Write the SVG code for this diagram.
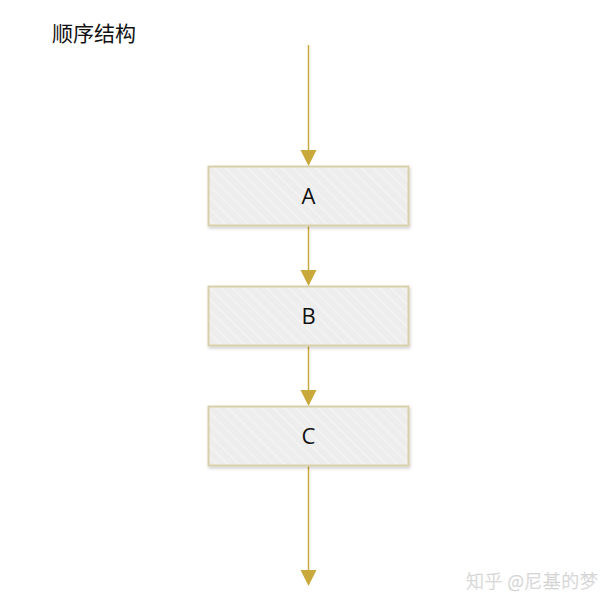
<svg xmlns="http://www.w3.org/2000/svg" width="616" height="608" viewBox="0 0 616 608">
<style>
.box{fill:url(#hatch);stroke:#d8d0a8;stroke-width:2}
.lbl{font-family:"Open Sans","Liberation Sans",sans-serif;font-size:22px;fill:#111;text-anchor:middle}
.ln{stroke:#c9a93c;stroke-width:1.5;fill:none}
.ah{fill:#c9a93c}
</style>
<defs>
<pattern id="hatch" width="8" height="8" patternUnits="userSpaceOnUse" patternTransform="rotate(-45)">
<rect width="8" height="8" fill="#ededed"/>
<line x1="0" y1="0" x2="0" y2="8" stroke="#f4f4f4" stroke-width="3"/>
</pattern>
<filter id="sh" x="-10%" y="-20%" width="120%" height="150%">
<feDropShadow dx="1" dy="2" stdDeviation="1.5" flood-color="#000" flood-opacity="0.18"/>
</filter>
</defs>
<rect width="616" height="608" fill="#fff"/>
<text x="52" y="41" font-family="'Noto Sans CJK SC',sans-serif" font-size="21" fill="#111">顺序结构</text>
<g id="connectors">
<line class="ln" x1="308.5" y1="45" x2="308.5" y2="152"/>
<polygon class="ah" points="300.5,150 316.5,150 308.5,166"/>
<line class="ln" x1="308.5" y1="226" x2="308.5" y2="272"/>
<polygon class="ah" points="300.5,270 316.5,270 308.5,286"/>
<line class="ln" x1="308.5" y1="346" x2="308.5" y2="392"/>
<polygon class="ah" points="300.5,390 316.5,390 308.5,406"/>
<line class="ln" x1="308.5" y1="466" x2="308.5" y2="572"/>
<polygon class="ah" points="300.5,570 316.5,570 308.5,586"/>
</g>
<g id="A">
<rect class="box" x="208.5" y="166.5" width="200" height="59" filter="url(#sh)"/>
<text class="lbl" x="308.5" y="204">A</text>
</g>
<g id="B">
<rect class="box" x="208.5" y="286.5" width="200" height="59" filter="url(#sh)"/>
<text class="lbl" x="308.5" y="324">B</text>
</g>
<g id="C">
<rect class="box" x="208.5" y="406.5" width="200" height="59" filter="url(#sh)"/>
<text class="lbl" x="308.5" y="444">C</text>
</g>
<text x="466" y="588" font-family="'Noto Sans CJK SC',sans-serif" font-size="18" font-weight="300" letter-spacing="0.5" fill="#e4e4e4" stroke="#d0d0d0" stroke-width="0.4">知乎 @尼基的梦</text>
</svg>
